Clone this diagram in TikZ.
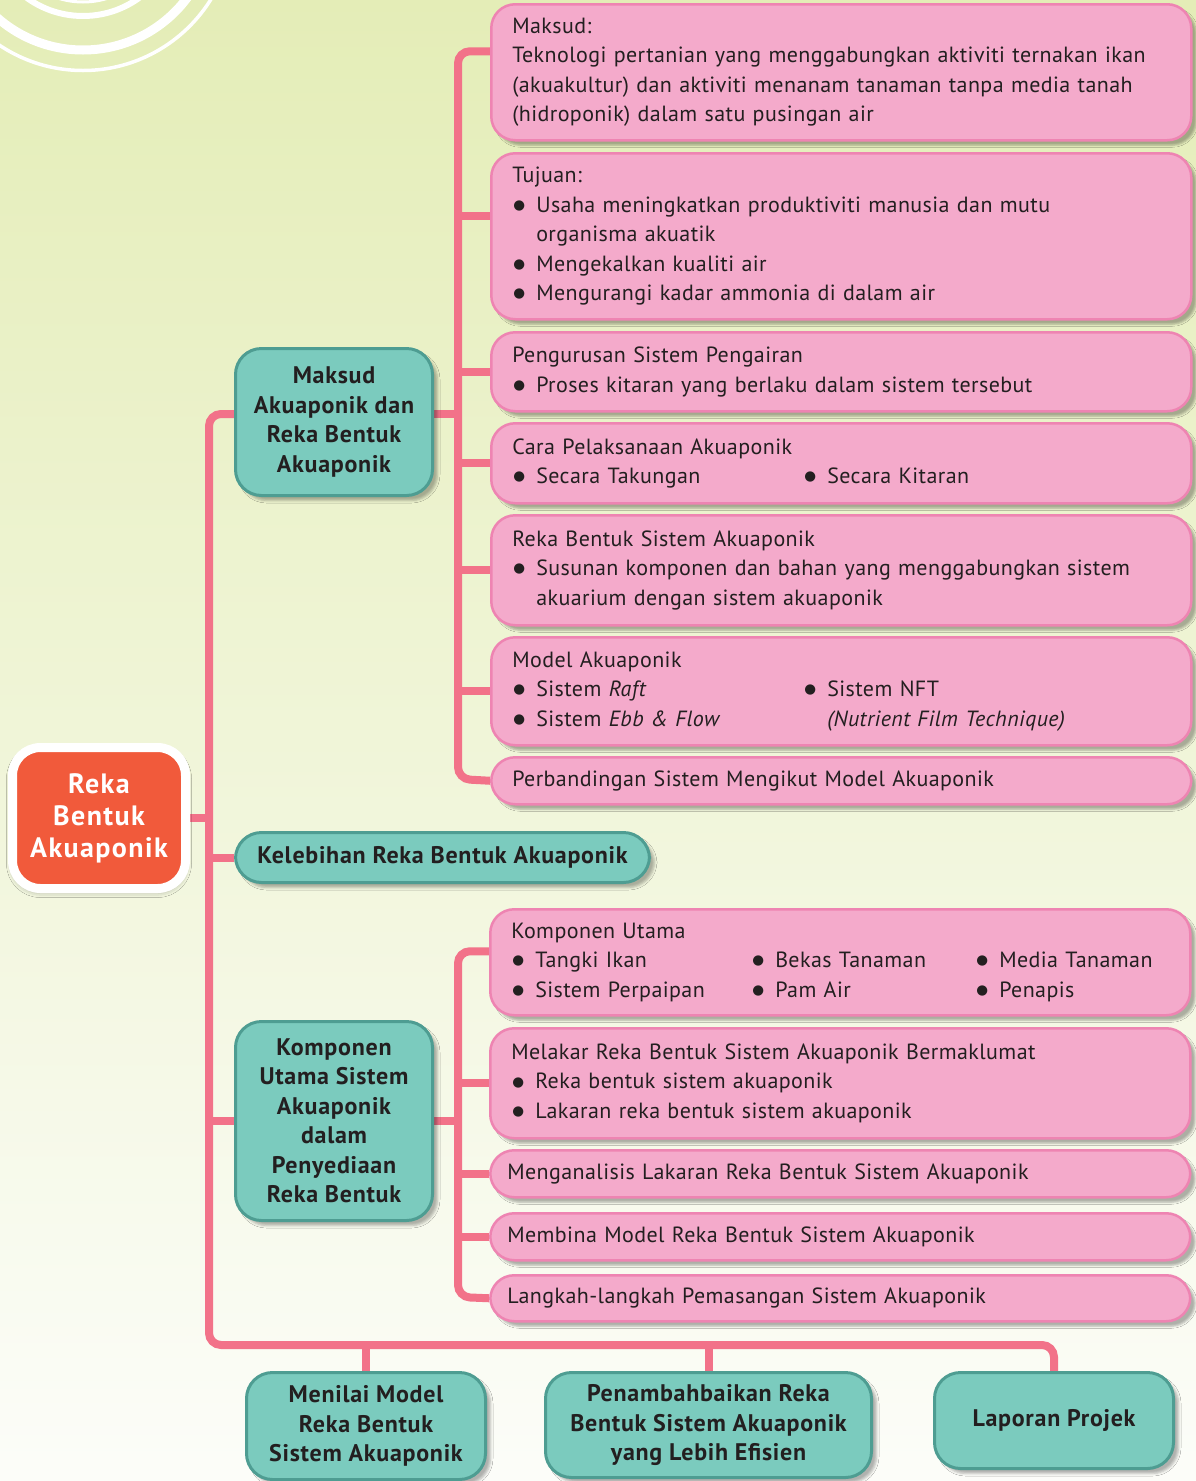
\documentclass[tikz,border=0pt]{standalone}
\usepackage{fontspec}
\setmainfont{PT Sans}
\newfontfamily\bodyfont[LetterSpace=1.9]{PT Sans}
\newfontfamily\headfont[LetterSpace=3]{PT Sans}
\newfontfamily\rootfont[LetterSpace=5]{PT Sans}
\newfontfamily\symfont{DejaVu Sans}
\usetikzlibrary{shadows.blur,backgrounds}

\definecolor{bgtop}{HTML}{E4EDB7}
\definecolor{bgbot}{HTML}{FCFDF9}
\definecolor{trunk}{HTML}{F27289}
\definecolor{pinkfill}{HTML}{F4AACB}
\definecolor{pinkedge}{HTML}{EE84B2}
\definecolor{tealfill}{HTML}{7BCBBE}
\definecolor{tealedge}{HTML}{4E9D92}
\definecolor{rootfill}{HTML}{F15A3B}
\definecolor{ink}{HTML}{231F20}

\setlength\parindent{0pt}
% list helpers: bullet item, continuation line, fixed-width columns
\newcommand\bul{\makebox[24pt][l]{\hspace{1pt}{\symfont\fontsize{13.5}{13.5}\selectfont\raisebox{2.8pt}{●}}}}
\newcommand\cont{\hspace*{24pt}}
\newcommand\colA[1]{\makebox[291pt][l]{\bul #1}}
\newcommand\colB[1]{\makebox[240pt][l]{\bul #1}}
\newcommand\colC[1]{\makebox[224pt][l]{\bul #1}}

\tikzset{
  pbox/.style={draw=pinkedge, fill=pinkfill, line width=2.5pt, rounded corners=24pt,
    text width=658pt, inner xsep=21pt, inner ysep=0pt, align=left, anchor=north west,
    font=\bodyfont\fontsize{22}{29.5}\selectfont, text=ink,
    blur shadow={shadow xshift=5pt, shadow yshift=-5pt, shadow blur radius=2pt, shadow opacity=30}},
  pline/.style={pbox, text width=666pt, inner xsep=17pt},
  tbox/.style={draw=tealedge, fill=tealfill, line width=3pt, rounded corners=26pt,
    align=center, anchor=north west, inner sep=0pt, text=ink,
    font=\headfont\bfseries\fontsize{24}{29.5}\selectfont,
    blur shadow={shadow xshift=5pt, shadow yshift=-5pt, shadow blur radius=2.5pt, shadow opacity=30}},
  conn/.style={draw=trunk, line width=8pt, rounded corners=12pt},
}

\begin{document}
\begin{tikzpicture}[x=1pt,y=-1pt]
\useasboundingbox (0,0) rectangle (1196,1481);

% ---------- upper group of detail boxes ----------
\node[pbox, minimum height=136pt] (b1) at (490,3) {Maksud:\\
  Teknologi pertanian yang menggabungkan aktiviti ternakan ikan\\
  (akuakultur) dan aktiviti menanam tanaman tanpa media tanah\\
  (hidroponik) dalam satu pusingan air};
\node[pbox, minimum height=166pt] (b2) at (490,152) {Tujuan:\\
  \bul Usaha meningkatkan produktiviti manusia dan mutu\\
  \cont organisma akuatik\\
  \bul Mengekalkan kualiti air\\
  \bul Mengurangi kadar ammonia di dalam air};
\node[pbox, minimum height=79pt] (b3) at (490,331) {Pengurusan Sistem Pengairan\\
  \bul Proses kitaran yang berlaku dalam sistem tersebut};
\node[pbox, minimum height=80pt] (b4) at (490,422) {Cara Pelaksanaan Akuaponik\\
  \colA{Secara Takungan}\bul Secara Kitaran};
\node[pbox, minimum height=110pt] (b5) at (490,514) {Reka Bentuk Sistem Akuaponik\\
  \bul Susunan komponen dan bahan yang menggabungkan sistem\\
  \cont akuarium dengan sistem akuaponik};
\node[pbox, minimum height=108pt] (b6) at (490,636) {Model Akuaponik\\
  \colA{Sistem \textit{Raft}}\bul Sistem NFT\\
  \colA{Sistem \textit{Ebb \& Flow}}\cont\textit{(Nutrient Film Technique)}};
\node[pbox, minimum height=47pt] (b7) at (490,756) {Perbandingan Sistem Mengikut Model Akuaponik};

% ---------- lower group of detail boxes ----------
\node[pbox, minimum height=106pt] (c1) at (489,908) {Komponen Utama\\
  \colB{Tangki Ikan}\colC{Bekas Tanaman}\bul Media Tanaman\\
  \colB{Sistem Perpaipan}\colC{Pam Air}\bul Penapis};
\node[pbox, minimum height=110pt] (c2) at (489,1027) {Melakar Reka Bentuk Sistem Akuaponik Bermaklumat\\
  \bul Reka bentuk sistem akuaponik\\
  \bul Lakaran reka bentuk sistem akuaponik};
\node[pline, minimum height=47pt] (c3) at (489,1149) {Menganalisis Lakaran Reka Bentuk Sistem Akuaponik};
\node[pline, minimum height=47pt] (c4) at (489,1212) {Membina Model Reka Bentuk Sistem Akuaponik};
\node[pline, minimum height=46pt] (c5) at (489,1274) {Langkah-langkah Pemasangan Sistem Akuaponik};

% ---------- topic nodes ----------
\node[tbox, minimum width=197pt, minimum height=147pt] (mak) at (234,347)
  {Maksud\\Akuaponik dan\\Reka Bentuk\\Akuaponik};
\node[tbox, minimum width=414pt, minimum height=50pt] (kel) at (234,831)
  {Kelebihan Reka Bentuk Akuaponik};
\node[tbox, minimum width=197pt, minimum height=199pt] (kom) at (234,1020)
  {Komponen\\Utama Sistem\\Akuaponik\\dalam\\Penyediaan\\Reka Bentuk};
\node[tbox, minimum width=239pt, minimum height=107pt] (men) at (245,1371)
  {Menilai Model\\Reka Bentuk\\Sistem Akuaponik};
\node[tbox, minimum width=326pt, minimum height=105pt] (pen) at (544,1371)
  {Penambahbaikan Reka\\Bentuk Sistem Akuaponik\\yang Lebih Efisien};
\node[tbox, minimum width=239pt, minimum height=96pt] (lap) at (933,1371)
  {Laporan Projek};

% ---------- root ----------
\node[draw=white, line width=9pt, fill=rootfill, rounded corners=28pt,
  minimum width=173pt, minimum height=141pt, inner sep=0pt, align=center,
  text=white, font=\rootfont\bfseries\fontsize{28}{32}\selectfont,
  blur shadow={shadow xshift=0pt, shadow yshift=-3pt, shadow blur radius=6pt, shadow opacity=35}]
  (root) at (99,818) {Reka\\Bentuk\\Akuaponik};

% junction points of the trunks
\coordinate (cbot) at (209,1345);
\coordinate (tu) at (458,779);
\coordinate (tl) at (458,1297);

\begin{scope}[on background layer]
  % page background with soft gradient and white ripples
  \shade[top color=bgtop, bottom color=bgbot] (0,0) rectangle (1196,1481);
  \begin{scope}
    \clip (0,0) rectangle (1196,1481);
    \draw[white, line width=3pt] (83,-80) circle[radius=82];
    \draw[white, line width=6pt] (83,-80) circle[radius=96];
    \draw[white, line width=9pt] (83,-80) circle[radius=130];
    \draw[white, line width=3.5pt] (83,-80) circle[radius=150.5];
  \end{scope}

  % main trunk
  \draw[conn] ([yshift=8pt]mak.west) -| (cbot) -| (lap.north);
  \draw[conn] (root.east) -- (root.east -| cbot);
  \draw[conn] (kel.west) -- (kel.west -| cbot);
  \draw[conn] (kom.west) -- (kom.west -| cbot);
  \draw[conn] (men.north) -- (men.north |- cbot);
  \draw[conn] (pen.north) -- (pen.north |- cbot);

  % upper trunk
  \draw[conn] ([yshift=21pt]b1.west) -| (tu) -- (b7.west);
  \draw[conn] ([yshift=8pt]mak.east) -- ([yshift=8pt]mak.east -| tu);
  \draw[conn] ([yshift=20pt]b2.west) -- ([yshift=20pt]b2.west -| tu);
  \foreach \b in {b3,b4,b5,b6} \draw[conn] (\b.west) -- (\b.west -| tu);

  % lower trunk
  \draw[conn] ([yshift=11pt]c1.west) -| (tl) -- (c5.west);
  \draw[conn] (kom.east) -- (kom.east -| tl);
  \foreach \c in {c2,c3,c4} \draw[conn] (\c.west) -- (\c.west -| tl);
\end{scope}
\end{tikzpicture}
\end{document}
